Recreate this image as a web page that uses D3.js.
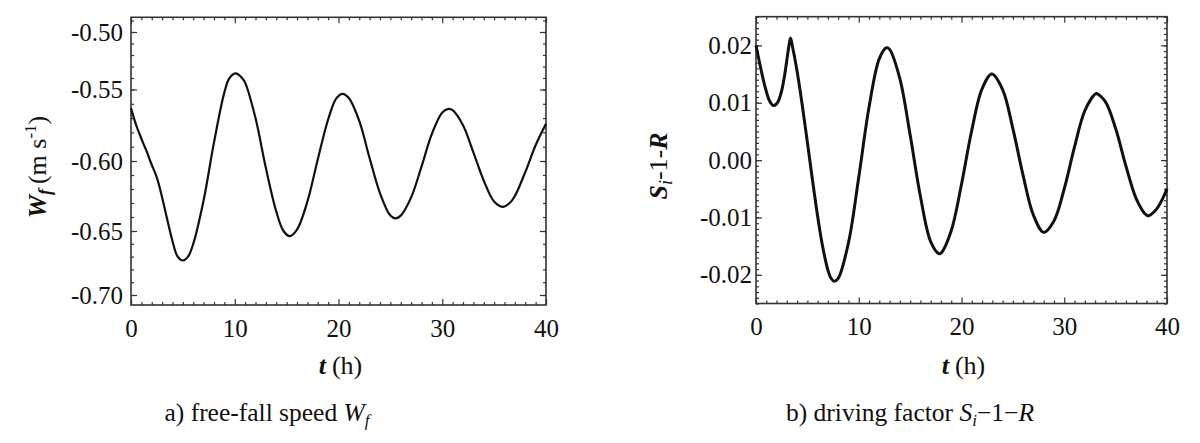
<!DOCTYPE html>
<html>
<head>
<meta charset="utf-8">
<script src="https://cdn.jsdelivr.net/npm/d3@7/dist/d3.min.js"></script>
<style>
  html, body { margin: 0; padding: 0; background: #fff; }
  svg { display: block; }
  text { font-family: "Liberation Serif", "Times New Roman", serif; fill: #111; }
</style>
</head>
<body>
<svg id="chart" width="1200" height="443" font-family="Liberation Serif"></svg>
<script>
// ---- data ----
const xTicks = [0, 10, 20, 30, 40];
const wfTicks = [-0.70, -0.65, -0.60, -0.55, -0.50];
const drvTicks = [-0.02, -0.01, 0.00, 0.01, 0.02];

// a) free-fall speed W_f (m s^-1) vs t (h)
const tWf = [0, 0.5, 0.87, 1.2, 1.5, 1.85, 2.5, 3, 3.5, 4, 4.5, 5, 5.5, 6, 7, 8, 9, 9.5, 10.1, 10.7, 11, 12, 13, 14, 14.7, 15.3,
  16, 17, 18, 19, 19.8, 20.4, 21, 22, 23, 24, 25, 25.5, 26, 27, 28, 29, 30, 30.6, 31, 32, 33, 34, 35, 35.8, 36.5, 37, 38, 39, 40];
const wf = [-0.563, -0.575, -0.582, -0.588, -0.593, -0.600, -0.612, -0.626, -0.642, -0.658, -0.670, -0.673, -0.670, -0.660,
  -0.628, -0.587, -0.552, -0.540, -0.536, -0.540, -0.544, -0.570, -0.605, -0.636, -0.650, -0.654,
  -0.649, -0.629, -0.599, -0.571, -0.556, -0.553, -0.556, -0.572, -0.598, -0.623, -0.639, -0.641,
  -0.639, -0.626, -0.604, -0.581, -0.566, -0.5635, -0.5645, -0.575, -0.594, -0.614, -0.629, -0.6327,
  -0.630, -0.625, -0.608, -0.589, -0.574];

// b) driving factor S_i - 1 - R vs t (h)
const tDrv = [0, 0.25, 0.5, 0.75, 1.0, 1.25, 1.5, 1.7, 2.0, 2.25, 2.5, 2.75, 3.0, 3.2, 3.36, 3.55, 4.0, 4.5, 5.0, 5.5, 6.0,
  6.5, 7.0, 7.3, 7.6, 8, 9, 10, 11, 12, 12.7, 13, 14, 15, 16, 17, 17.8, 18, 19, 20, 21, 22, 22.95, 24, 25, 26, 27, 28,
  29, 30, 31, 32, 33, 33.15, 34, 35, 36, 37, 38, 38.2, 39, 39.5, 40];
const drv = [0.0200, 0.0178, 0.0157, 0.0137, 0.0120, 0.0106, 0.0098, 0.0095, 0.0098, 0.0106, 0.0121, 0.0144, 0.0174,
  0.0199, 0.0213, 0.0198, 0.0155, 0.0096, 0.0031, -0.0035, -0.0098, -0.0152, -0.0192, -0.0206, -0.0211, -0.0206,
  -0.0144, -0.0030, 0.0092, 0.0177, 0.0196, 0.0193, 0.0142, 0.0044, -0.0063, -0.0142, -0.0163, -0.0162, -0.0123,
  -0.0042, 0.0052, 0.0124, 0.0150, 0.0123, 0.0055, -0.0027, -0.0096, -0.0126, -0.0106, -0.0050, 0.0023, 0.0086,
  0.0115, 0.0116, 0.0102, 0.0055, -0.0010, -0.0067, -0.0096, -0.0097, -0.0085, -0.0070, -0.0050];

// ---- drawing ----
const svg = d3.select("#chart");
const fmt = d => (Math.abs(d) < 1e-9 ? 0 : d).toFixed(2);
const SERIF = "'Liberation Serif', 'Times New Roman', serif";

function panel(cfg) {
  const x = d3.scaleLinear().domain([0, 40]).range([cfg.x0, cfg.x1]);
  const y = cfg.y;
  const [yLo, yHi] = [y.domain()[0], y.domain()[y.domain().length - 1]];
  const g = svg.append("g");

  const xMinor = d3.range(0, 40.001, 1).filter(v => v % 10 !== 0);
  const yMinor = d3.range(Math.ceil(yLo / cfg.yMinorStep - 1e-6), Math.floor(yHi / cfg.yMinorStep + 1e-6) + 1)
    .map(k => k * cfg.yMinorStep);

  function addAxis(axisFn, scale, transform, values, size, labels, pad) {
    const a = axisFn(scale).tickValues(values).tickSizeInner(-size).tickSizeOuter(0)
      .tickPadding(pad || 0).tickFormat(labels ? labels : () => "");
    const ag = g.append("g").attr("transform", transform).call(a)
      .attr("font-family", SERIF).attr("font-size", 25);
    ag.select(".domain").remove();
    ag.selectAll(".tick line").attr("stroke", "#333").attr("stroke-width", 1.2);
    ag.selectAll(".tick text").style("font-family", SERIF).style("font-size", "25px").attr("fill", "#111");
    return ag;
  }
  // bottom
  addAxis(d3.axisBottom, x, `translate(0,${cfg.y1})`, xTicks, 6, d => d, 14);
  addAxis(d3.axisBottom, x, `translate(0,${cfg.y1})`, xMinor, 3);
  // top
  addAxis(d3.axisTop, x, `translate(0,${cfg.y0})`, xTicks, 6);
  addAxis(d3.axisTop, x, `translate(0,${cfg.y0})`, xMinor, 3);
  // left
  addAxis(d3.axisLeft, y, `translate(${cfg.x0},0)`, cfg.yTicks, 6, fmt, cfg.yPad);
  addAxis(d3.axisLeft, y, `translate(${cfg.x0},0)`, yMinor, 3);
  // right
  addAxis(d3.axisRight, y, `translate(${cfg.x1},0)`, cfg.yTicks, 6);
  addAxis(d3.axisRight, y, `translate(${cfg.x1},0)`, yMinor, 3);

  // frame
  g.append("rect").attr("x", cfg.x0).attr("y", cfg.y0)
    .attr("width", cfg.x1 - cfg.x0).attr("height", cfg.y1 - cfg.y0)
    .attr("fill", "none").attr("stroke", "#333").attr("stroke-width", 1.6);

  // curve
  const pts = cfg.t.map((t, i) => [t, cfg.v[i]]);
  g.append("path").datum(pts)
    .attr("fill", "none").attr("stroke", "#111").attr("stroke-width", cfg.lw)
    .attr("stroke-linejoin", "round")
    .attr("d", d3.line().x(d => x(d[0])).y(d => y(d[1])).curve(d3.curveCatmullRom.alpha(0.5)));

  // x title
  const xt = g.append("text").attr("x", (cfg.x0 + cfg.x1) / 2 + 2).attr("y", 374)
    .attr("text-anchor", "middle").style("font-size", "26px");
  xt.append("tspan").text("t").style("font-weight", "bold").style("font-style", "italic");
  xt.append("tspan").text("(h)").attr("dx", "6");

  return g;
}

// left panel: the reference's value axis is drawn with slightly uneven tick spacing
const yWf = d3.scaleLinear()
  .domain([-0.7078, -0.70, -0.65, -0.60, -0.55, -0.50, -0.4872])
  .range([305, 295, 231, 161, 89.5, 32, 17.3]);
panel({ x0: 131, x1: 546, y0: 17.3, y1: 305, y: yWf, yTicks: wfTicks,
  yMinorStep: 0.01, yPad: 8, t: tWf, v: wf, lw: 2.2 });

const yDrv = d3.scaleLinear().domain([-0.025, 0.025]).range([303.5, 16.7]);
panel({ x0: 756, x1: 1167, y0: 16.7, y1: 303.5, y: yDrv, yTicks: drvTicks,
  yMinorStep: 0.001, yPad: 4, t: tDrv, v: drv, lw: 3 });

// y titles
const yl = svg.append("text").attr("transform", "translate(46,167) rotate(-90)")
  .attr("text-anchor", "middle").style("font-size", "26px");
yl.append("tspan").text("W").style("font-weight", "bold").style("font-style", "italic");
yl.append("tspan").text("f").style("font-weight", "bold").style("font-style", "italic")
  .style("font-size", "18px").attr("dy", "5");
yl.append("tspan").text("(m s").attr("dy", "-5").attr("dx", "5");
yl.append("tspan").text("-1").style("font-size", "17px").attr("dy", "-10");
yl.append("tspan").text(")").attr("dy", "10");

const yr = svg.append("text").attr("transform", "translate(667,166) rotate(-90)")
  .attr("text-anchor", "middle").style("font-size", "26px");
yr.append("tspan").text("S").style("font-weight", "bold").style("font-style", "italic");
yr.append("tspan").text("i").style("font-style", "italic").style("font-size", "18px").attr("dy", "5");
yr.append("tspan").text("-1-").attr("dy", "-5");
yr.append("tspan").text("R").style("font-weight", "bold").style("font-style", "italic");

// captions
const ca = svg.append("text").attr("x", 267).attr("y", 421).attr("text-anchor", "middle").style("font-size", "25.5px");
ca.append("tspan").text("a) free-fall speed ");
ca.append("tspan").text("W").style("font-style", "italic");
ca.append("tspan").text("f").style("font-style", "italic").style("font-size", "17px").attr("dy", "5");

const cb = svg.append("text").attr("x", 910).attr("y", 421).attr("text-anchor", "middle").style("font-size", "25.5px");
cb.append("tspan").text("b) driving factor ");
cb.append("tspan").text("S").style("font-style", "italic");
cb.append("tspan").text("i").style("font-style", "italic").style("font-size", "17px").attr("dy", "5");
cb.append("tspan").text("\u22121\u2212").attr("dy", "-5");
cb.append("tspan").text("R").style("font-style", "italic");
</script>
</body>
</html>
